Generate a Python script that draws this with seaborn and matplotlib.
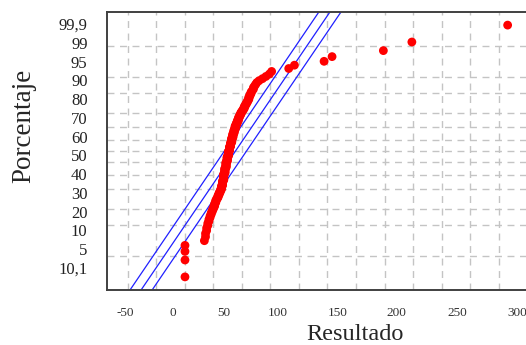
import matplotlib
matplotlib.use('Agg')
import matplotlib.pyplot as plt
import seaborn as sns
import numpy as np
from statistics import NormalDist

# valores (ordenados)
resultado = [
    0, 0, 0, 0,
    17, 18, 18, 19, 19, 20,
    20, 21, 21, 22, 22, 23, 23, 24, 24, 25,
    25, 26, 26, 26, 27, 27, 27, 28, 28, 29,
    29, 29, 30, 30, 30, 31, 31, 31, 32, 32,
    32, 32, 32, 33, 33, 33, 33, 33, 33, 33, 34, 34, 34, 34, 34, 34, 34, 34, 34,
    34, 35, 35, 35, 35, 35, 35, 35, 35, 35, 36, 36, 36, 36, 36, 36, 36, 36, 36,
    36, 37, 37, 37, 37, 37, 37, 37, 37, 37, 38, 38, 38, 38, 38, 38, 38, 38, 38, 39,
    39, 39, 39, 39, 39, 39, 39, 40, 40, 40, 40, 40, 40, 40, 41, 41, 41, 41, 41, 41,
    41, 41, 42, 42, 42, 42, 42, 42, 42, 43, 43, 43, 43, 43, 43, 44, 44, 44, 44,
    44, 44, 45, 45, 45, 45, 46, 46, 46, 46, 47, 47, 47, 47, 48, 48, 48, 49, 49,
    49, 50, 50, 51, 51, 52, 52, 52, 53, 53,
    54, 54, 55, 55, 56, 56, 56, 57, 57, 58,
    58, 59, 60, 60, 61,
    62, 63, 65,
    68, 71, 74, 76,
    91, 96, 122, 129, 174, 199, 283,
]

# recta ajustada y bandas
fit_mean = 44.3
fit_sd = 26.8
band = 9.7

pct_grid = [1, 5, 10, 20, 30, 40, 50, 60, 70, 80, 90, 95, 99]
y_labels = ['99,9', '99', '95', '90', '80', '70', '60', '50', '40', '30',
            '20', '10', '5', '10,1']
x_labels = ['-50', '0', '50', '100', '150', '200', '250', '300']
x_grid = list(range(-50, 301, 25))

nd = NormalDist()
vals = np.sort(np.array(resultado, dtype=float))
n = len(vals)
zq = np.array([nd.inv_cdf((i - 0.5) / n) for i in range(1, n + 1)])
zmax = nd.inv_cdf(0.999)

sns.set_style('white')
plt.rcParams['font.family'] = ['Liberation Serif', 'DejaVu Serif']

W, H = 526, 345
fig = plt.figure(figsize=(W / 100, H / 100), dpi=100)
ax = fig.add_axes([107 / W, 55 / H, 428 / W, 278 / H])

# líneas de ajuste
zz = np.array([-zmax * 1.05, zmax * 1.05])
for off in (-band, 0, band):
    ax.plot(fit_mean + off + fit_sd * zz, zz, color='#2020ff', lw=0.9, zorder=2)

sns.scatterplot(x=vals, y=zq, ax=ax, color='#ff0000', s=40, edgecolor='none',
                linewidth=0, zorder=3)

ax.set_xlim(-68.4, 307)
ax.set_ylim(-zmax, zmax)

# etiquetas (posiciones como en la imagen original)
x_lab_pos = [-52.6, -10.5, 34.2, 81.6, 134.2, 185, 238.6, 291]
ax.set_xticks(x_lab_pos, x_labels)
ax.set_xticks(x_grid, minor=True)
y_lab_pos = np.linspace(2.822, -2.6, len(y_labels))
ax.set_yticks(y_lab_pos, y_labels)
ax.set_yticks([nd.inv_cdf(p / 100) for p in pct_grid], minor=True)

ax.grid(False, which='major')
ax.grid(True, which='minor', color='#c4c4c4', linestyle=(0, (5, 4)), lw=1)
ax.tick_params(which='both', length=0)
ax.tick_params(axis='x', pad=12, labelsize=9.5, labelcolor='#333333')
ax.tick_params(axis='y', pad=14, labelsize=12, labelcolor='#222222')

for s in ('left', 'bottom', 'top'):
    ax.spines[s].set_color('#404040')
    ax.spines[s].set_linewidth(1.4)
ax.spines['right'].set_visible(False)

fig.text(355 / W, 1 - 335 / H, 'Resultado', ha='center', va='center', fontsize=17.5)
fig.text(24 / W, 1 - 126 / H, 'Porcentaje', ha='center', va='center',
         fontsize=19.5, rotation=90)

fig.savefig('out.png', dpi=100)
